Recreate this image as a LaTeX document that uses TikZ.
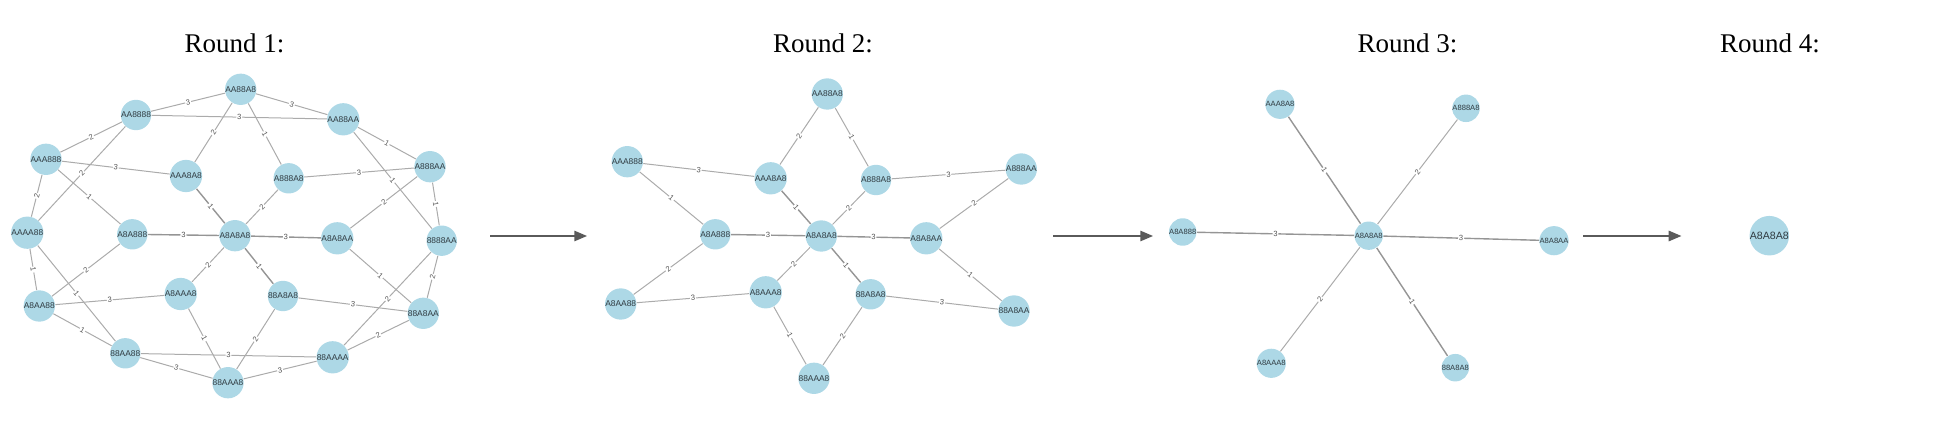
\documentclass[tikz,border=0pt]{standalone}
\usepackage{fontspec}
\setmainfont{Liberation Serif}
\newfontfamily\lsans{Liberation Sans}
\usetikzlibrary{arrows.meta,backgrounds}
\definecolor{nodeblue}{HTML}{ADD8E6}
\definecolor{nodetext}{HTML}{2F3A40}
\definecolor{edgegray}{HTML}{ABABAB}
\definecolor{edgedark}{HTML}{959595}
\definecolor{labgray}{HTML}{555555}
\definecolor{arrowgray}{HTML}{5A5A5A}
\newcommand\ed[4][]{\draw[edge,#1] (#2) -- node[elab]{#4} (#3);}
\begin{document}
\begin{tikzpicture}[x=0.5pt,y=-0.5pt,
  vtx/.style={circle, fill=nodeblue, inner sep=0pt, minimum size=14.3pt, text=nodetext, font=\lsans\fontsize{4.2}{5}\selectfont},
  vtxs/.style={vtx, minimum size=13pt, font=\lsans\fontsize{3.8}{5}\selectfont},
  vtxb/.style={vtx, minimum size=19pt, font=\lsans\fontsize{5.3}{6}\selectfont},
  edge/.style={draw=edgegray, line width=0.5pt},
  dark/.style={draw=edgedark, line width=0.7pt},
  elab/.style={sloped, fill=white, inner sep=0.4pt, text=labgray, font=\lsans\fontsize{3.8}{4}\selectfont},
  ttl/.style={anchor=base, font=\fontsize{13.5}{16}\selectfont},
  bigarrow/.style={draw=arrowgray, line width=1.35pt, -{Triangle[length=6.5pt,width=5pt]}}
]
\useasboundingbox (0,0) rectangle (1945,438);

% titles
\node[ttl] (t1) at (234.5,52.3) {Round 1:};
\node[ttl] (t2) at (823,52.3) {Round 2:};
\node[ttl] (t3) at (1407.5,52.3) {Round 3:};
\node[ttl] (t4) at (1770,52.3) {Round 4:};

% ---------- Round 1 ----------
\node[vtx] (r1AA88A8) at (240.7,89.3) {AA88A8};
\node[vtx] (r1AA8888) at (136,115) {AA8888};
\node[vtx] (r1AA88AA) at (343.3,119.3) {AA88AA};
\node[vtx] (r1AAA888) at (46,159.3) {AAA888};
\node[vtx] (r1A888AA) at (430,166.7) {A888AA};
\node[vtx] (r1AAA8A8) at (186,176) {AAA8A8};
\node[vtx] (r1A888A8) at (288.7,178.3) {A888A8};
\node[vtx] (r1AAAA88) at (27.3,232.7) {AAAA88};
\node[vtx] (r1A8A888) at (132.3,234.3) {A8A888};
\node[vtx] (r1A8A8A8) at (235,235.7) {A8A8A8};
\node[vtx] (r1A8A8AA) at (337.3,238.3) {A8A8AA};
\node[vtx] (r18888AA) at (441.7,240.7) {8888AA};
\node[vtx] (r1A8AAA8) at (180.7,294) {A8AAA8};
\node[vtx] (r188A8A8) at (283,296) {88A8A8};
\node[vtx] (r1A8AA88) at (39.3,306) {A8AA88};
\node[vtx] (r188A8AA) at (423.3,313.3) {88A8AA};
\node[vtx] (r188AA88) at (125.3,353.3) {88AA88};
\node[vtx] (r188AAAA) at (332.7,357.3) {88AAAA};
\node[vtx] (r188AAA8) at (228,382.7) {88AAA8};

% ---------- Round 2 ----------
\node[vtx] (r2AA88A8) at (827.3,94) {AA88A8};
\node[vtx] (r2AAA888) at (627.3,161.7) {AAA888};
\node[vtx] (r2AAA8A8) at (770.7,178.3) {AAA8A8};
\node[vtx] (r2A888A8) at (876,180) {A888A8};
\node[vtx] (r2A888AA) at (1021.3,169) {A888AA};
\node[vtx] (r2A8A888) at (715.3,234.3) {A8A888};
\node[vtx] (r2A8A8A8) at (821.3,236) {A8A8A8};
\node[vtx] (r2A8A8AA) at (926.3,238.3) {A8A8AA};
\node[vtx] (r2A8AA88) at (620.7,304) {A8AA88};
\node[vtx] (r2A8AAA8) at (765.7,292.3) {A8AAA8};
\node[vtx] (r288A8A8) at (870.7,294.3) {88A8A8};
\node[vtx] (r288A8AA) at (1014,311) {88A8AA};
\node[vtx] (r288AAA8) at (814,378.3) {88AAA8};

% ---------- Round 3 ----------
\node[vtxs] (r3AAA8A8) at (1280,104.3) {AAA8A8};
\node[vtxs] (r3A888A8) at (1466,108.3) {A888A8};
\node[vtxs] (r3A8A888) at (1182.7,232) {A8A888};
\node[vtxs] (r3A8A8A8) at (1368.7,235.7) {A8A8A8};
\node[vtxs] (r3A8A8AA) at (1554,240.7) {A8A8AA};
\node[vtxs] (r3A8AAA8) at (1271.3,363.3) {A8AAA8};
\node[vtxs] (r388A8A8) at (1455.3,367.7) {88A8A8};

% ---------- Round 4 ----------
\node[vtxb] (r4A8A8A8) at (1769.3,235.7) {A8A8A8};

% arrows between rounds
\coordinate (a1s) at (490,236);
\coordinate (a1e) at (587.3,236);
\coordinate (a2s) at (1053,236);
\coordinate (a2e) at (1153.3,236);
\coordinate (a3s) at (1583.3,236);
\coordinate (a3e) at (1681.7,236);
\draw[bigarrow] (a1s) -- (a1e);
\draw[bigarrow] (a2s) -- (a2e);
\draw[bigarrow] (a3s) -- (a3e);

\begin{pgfonlayer}{background}
% Round 1 edges
\ed{r1AA8888}{r1AA88A8}{3}
\ed{r1AA88A8}{r1AA88AA}{3}
\ed{r1AA8888}{r1AA88AA}{3}
\ed{r1AA8888}{r1AAA888}{2}
\ed{r1AA8888}{r1AAAA88}{2}
\ed{r1AA88A8}{r1AAA8A8}{2}
\ed{r1AA88A8}{r1A888A8}{1}
\ed{r1AA88AA}{r1A888AA}{1}
\ed{r1AA88AA}{r18888AA}{1}
\ed{r1AAA888}{r1AAA8A8}{3}
\ed{r1AAA888}{r1AAAA88}{2}
\ed{r1AAA888}{r1A8A888}{1}
\ed{r1A888A8}{r1A888AA}{3}
\ed{r1A888AA}{r1A8A8AA}{2}
\ed{r1A888AA}{r18888AA}{1}
\ed[dark]{r1AAA8A8}{r1A8A8A8}{1}
\ed{r1A888A8}{r1A8A8A8}{2}
\ed{r1AAAA88}{r1A8AA88}{1}
\ed{r1AAAA88}{r188AA88}{1}
\ed[dark]{r1A8A888}{r1A8A8A8}{3}
\ed[dark]{r1A8A8A8}{r1A8A8AA}{3}
\ed{r1A8A888}{r1A8AA88}{2}
\ed{r1A8A8A8}{r1A8AAA8}{2}
\ed[dark]{r1A8A8A8}{r188A8A8}{1}
\ed{r1A8A8AA}{r188A8AA}{1}
\ed{r18888AA}{r188A8AA}{2}
\ed{r18888AA}{r188AAAA}{2}
\ed{r1A8AA88}{r1A8AAA8}{3}
\ed{r1A8AA88}{r188AA88}{1}
\ed{r188A8A8}{r188A8AA}{3}
\ed{r188A8AA}{r188AAAA}{2}
\ed{r1A8AAA8}{r188AAA8}{1}
\ed{r188A8A8}{r188AAA8}{2}
\ed{r188AA88}{r188AAAA}{3}
\ed{r188AA88}{r188AAA8}{3}
\ed{r188AAA8}{r188AAAA}{3}
% Round 2 edges
\ed{r2AA88A8}{r2AAA8A8}{2}
\ed{r2AA88A8}{r2A888A8}{1}
\ed{r2AAA888}{r2AAA8A8}{3}
\ed{r2AAA888}{r2A8A888}{1}
\ed[dark]{r2AAA8A8}{r2A8A8A8}{1}
\ed{r2A888A8}{r2A8A8A8}{2}
\ed{r2A888A8}{r2A888AA}{3}
\ed{r2A888AA}{r2A8A8AA}{2}
\ed[dark]{r2A8A888}{r2A8A8A8}{3}
\ed[dark]{r2A8A8A8}{r2A8A8AA}{3}
\ed{r2A8A888}{r2A8AA88}{2}
\ed{r2A8AA88}{r2A8AAA8}{3}
\ed{r2A8A8A8}{r2A8AAA8}{2}
\ed[dark]{r2A8A8A8}{r288A8A8}{1}
\ed{r2A8A8AA}{r288A8AA}{1}
\ed{r288A8A8}{r288A8AA}{3}
\ed{r2A8AAA8}{r288AAA8}{1}
\ed{r288A8A8}{r288AAA8}{2}
% Round 3 edges
\ed[dark]{r3AAA8A8}{r3A8A8A8}{1}
\ed{r3A888A8}{r3A8A8A8}{2}
\ed[dark]{r3A8A888}{r3A8A8A8}{3}
\ed[dark]{r3A8A8A8}{r3A8A8AA}{3}
\ed{r3A8AAA8}{r3A8A8A8}{2}
\ed[dark]{r388A8A8}{r3A8A8A8}{1}
\end{pgfonlayer}
\end{tikzpicture}
\end{document}
